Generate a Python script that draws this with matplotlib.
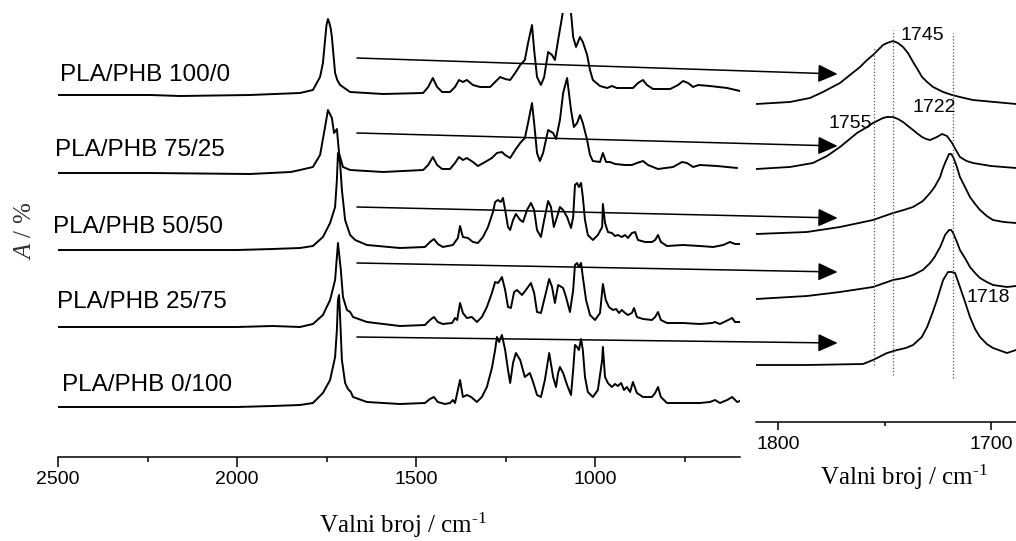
import matplotlib
matplotlib.use("Agg")
import matplotlib.pyplot as plt
from matplotlib.patches import ConnectionPatch
from matplotlib.ticker import FixedLocator, NullFormatter

# ---------------- data ----------------
labels = ["PLA/PHB 100/0", "PLA/PHB 75/25", "PLA/PHB 50/50", "PLA/PHB 25/75", "PLA/PHB 0/100"]

# full spectra (wavenumber / cm-1, absorbance a.u.)
wn_100_0 = [2500, 2243, 2159, 1964, 1824, 1788, 1768, 1760, 1754, 1750, 1746, 1742, 1738, 1735, 1730,
            1726, 1720, 1712, 1684, 1592, 1480,
            1466, 1453, 1441, 1427, 1405, 1391, 1380, 1369, 1358, 1341, 1321, 1293, 1279, 1265, 1251,
            1237, 1223, 1209, 1196, 1187, 1176, 1170, 1162, 1151, 1142, 1131, 1120, 1112, 1103, 1092,
            1085, 1078, 1070, 1067, 1061, 1053, 1042, 1034, 1022, 1014, 1006, 986, 966, 953, 939,
            894, 880, 866, 855, 838, 790, 768, 754, 740, 726, 712, 679, 631, 595]
a_100_0 = [0, 0, -0.01, 0, 0.02, 0.05, 0.18, 0.32, 0.55, 0.70, 0.76, 0.72, 0.66, 0.58, 0.38,
           0.22, 0.15, 0.10, 0.03, 0.01, 0.02,
           0.08, 0.17, 0.08, 0.03, 0.03, 0.08, 0.15, 0.13, 0.15, 0.10, 0.08, 0.08, 0.13, 0.18, 0.16,
           0.15, 0.22, 0.30, 0.35, 0.52, 0.70, 0.45, 0.18, 0.10, 0.18, 0.43, 0.40, 0.35, 0.55, 0.78,
           0.95, 1.05, 0.95, 0.82, 0.58, 0.48, 0.58, 0.53, 0.40, 0.25, 0.15, 0.09, 0.07, 0.09, 0.07,
           0.07, 0.12, 0.15, 0.10, 0.06, 0.06, 0.10, 0.14, 0.12, 0.08, 0.10, 0.09, 0.07, 0.04]

wn_75_25 = [2500, 2243, 1964, 1850, 1824, 1788, 1768, 1754, 1746, 1735, 1729, 1721, 1715, 1704, 1684,
            1592, 1480, 1466, 1453, 1441, 1427, 1405, 1391, 1380, 1369, 1358, 1341, 1327, 1307, 1288,
            1274, 1260, 1251, 1237, 1223, 1209, 1196, 1187, 1176, 1170, 1162, 1154, 1145, 1131, 1117,
            1109, 1098, 1089, 1078, 1067, 1059, 1050, 1042, 1034, 1022, 1014, 1006, 986, 978, 969,
            958, 944, 916, 897, 883, 866, 852, 824, 782, 757, 743, 726, 707, 659, 603]
a_75_25 = [0, 0, -0.01, 0.01, 0.03, 0.06, 0.18, 0.46, 0.63, 0.55, 0.40, 0.44, 0.20, 0.06, 0.03,
           0.01, 0.03, 0.08, 0.16, 0.08, 0.04, 0.04, 0.10, 0.16, 0.13, 0.15, 0.11, 0.07, 0.11, 0.15,
           0.20, 0.21, 0.18, 0.15, 0.23, 0.30, 0.35, 0.50, 0.70, 0.50, 0.20, 0.12, 0.20, 0.43, 0.40,
           0.34, 0.53, 0.80, 0.95, 0.63, 0.46, 0.50, 0.58, 0.50, 0.33, 0.18, 0.12, 0.11, 0.20, 0.11,
           0.11, 0.09, 0.08, 0.08, 0.10, 0.12, 0.08, 0.04, 0.06, 0.11, 0.10, 0.06, 0.08, 0.07, 0.05]

wn_50_50 = [2500, 2200, 2000, 1900, 1824, 1788, 1760, 1740, 1726, 1721, 1718, 1712, 1707, 1698, 1684,
            1670, 1637, 1545, 1475, 1461, 1450, 1439, 1425, 1397, 1383, 1377, 1369, 1355, 1341, 1327,
            1313, 1299, 1285, 1279, 1271, 1263, 1257, 1251, 1243, 1237, 1229, 1221, 1209, 1201, 1190,
            1179, 1170, 1162, 1151, 1142, 1131, 1123, 1115, 1106, 1098, 1089, 1078, 1067, 1061, 1056,
            1050, 1045, 1039, 1034, 1028, 1020, 1006, 992, 980, 978, 972, 964, 953, 944, 936,
            925, 916, 908, 897, 888, 880, 860, 841, 832, 824, 816, 799, 754, 707, 670,
            642, 623, 609, 595]
a_50_50 = [0, 0, 0, 0.01, 0.02, 0.04, 0.13, 0.27, 0.43, 0.70, 0.97, 0.87, 0.60, 0.30, 0.15,
           0.10, 0.05, 0.02, 0.03, 0.08, 0.11, 0.06, 0.03, 0.05, 0.12, 0.24, 0.13, 0.12, 0.08, 0.07,
           0.13, 0.23, 0.38, 0.48, 0.50, 0.48, 0.52, 0.40, 0.23, 0.20, 0.30, 0.36, 0.30, 0.28, 0.40,
           0.47, 0.40, 0.20, 0.13, 0.30, 0.49, 0.43, 0.23, 0.33, 0.43, 0.40, 0.33, 0.22, 0.33, 0.65,
           0.67, 0.63, 0.67, 0.53, 0.30, 0.15, 0.10, 0.15, 0.23, 0.46, 0.27, 0.18, 0.17, 0.14, 0.15,
           0.13, 0.15, 0.12, 0.17, 0.18, 0.10, 0.08, 0.08, 0.10, 0.15, 0.08, 0.04, 0.05, 0.04, 0.03,
           0.05, 0.08, 0.06, 0.06]

wn_25_75 = [2500, 2200, 2000, 1900, 1824, 1788, 1760, 1740, 1726, 1721, 1718, 1710, 1704, 1693, 1684,
            1676, 1637, 1545, 1475, 1461, 1450, 1439, 1425, 1399, 1391, 1385, 1377, 1369, 1358, 1344,
            1330, 1316, 1302, 1288, 1279, 1271, 1265, 1260, 1251, 1243, 1235, 1226, 1218, 1204, 1193,
            1179, 1170, 1162, 1151, 1140, 1128, 1120, 1112, 1103, 1089, 1081, 1070, 1061, 1056, 1050,
            1045, 1039, 1034, 1025, 1014, 1000, 986, 978, 970, 961, 950, 941, 933, 925, 916,
            908, 897, 891, 883, 866, 841, 832, 824, 816, 799, 754, 707, 673, 665, 651,
            628, 617, 609, 595]
a_25_75 = [0, 0, 0, 0.01, 0.00, 0.03, 0.12, 0.27, 0.47, 0.70, 0.84, 0.57, 0.30, 0.17, 0.15,
           0.10, 0.05, 0.01, 0.02, 0.07, 0.10, 0.05, 0.03, 0.04, 0.09, 0.07, 0.24, 0.14, 0.09, 0.10,
           0.05, 0.10, 0.20, 0.34, 0.45, 0.44, 0.47, 0.50, 0.37, 0.20, 0.19, 0.35, 0.37, 0.32, 0.37,
           0.44, 0.34, 0.15, 0.14, 0.30, 0.48, 0.40, 0.24, 0.42, 0.39, 0.30, 0.15, 0.37, 0.62, 0.64,
           0.60, 0.64, 0.50, 0.27, 0.12, 0.07, 0.14, 0.43, 0.27, 0.20, 0.17, 0.18, 0.14, 0.17, 0.14,
           0.12, 0.14, 0.19, 0.10, 0.08, 0.07, 0.10, 0.15, 0.07, 0.04, 0.04, 0.03, 0.04, 0.05, 0.03,
           0.07, 0.09, 0.05, 0.05]

wn_0_100 = [2500, 2200, 2000, 1900, 1824, 1788, 1760, 1740, 1726, 1721, 1718, 1715, 1712, 1707, 1698,
            1690, 1682, 1676, 1637, 1545, 1475, 1461, 1450, 1439, 1419, 1405, 1397, 1391, 1377, 1369,
            1358, 1346, 1330, 1316, 1302, 1288, 1279, 1274, 1268, 1260, 1251, 1243, 1237, 1229, 1221,
            1209, 1196, 1182, 1173, 1162, 1151, 1140, 1128, 1117, 1109, 1103, 1098, 1089, 1078, 1067,
            1061, 1056, 1050, 1045, 1039, 1034, 1028, 1020, 1006, 992, 980, 978, 972, 964, 953,
            944, 936, 927, 919, 911, 902, 894, 883, 866, 841, 832, 824, 816, 799, 754,
            707, 679, 665, 651, 631, 617, 603, 595]
a_0_100 = [0, 0, 0, 0.01, 0.02, 0.04, 0.14, 0.27, 0.50, 0.77, 1.07, 1.12, 0.90, 0.47, 0.24,
           0.18, 0.15, 0.10, 0.05, 0.03, 0.04, 0.08, 0.10, 0.05, 0.03, 0.04, 0.07, 0.04, 0.27, 0.10,
           0.12, 0.10, 0.05, 0.10, 0.20, 0.39, 0.57, 0.70, 0.65, 0.72, 0.57, 0.37, 0.24, 0.44, 0.54,
           0.47, 0.30, 0.34, 0.25, 0.12, 0.10, 0.27, 0.54, 0.30, 0.20, 0.34, 0.40, 0.34, 0.22, 0.12,
           0.37, 0.62, 0.60, 0.57, 0.68, 0.57, 0.30, 0.15, 0.10, 0.17, 0.47, 0.60, 0.30, 0.24, 0.20,
           0.23, 0.21, 0.24, 0.17, 0.20, 0.15, 0.25, 0.14, 0.10, 0.10, 0.14, 0.20, 0.10, 0.04, 0.04,
           0.04, 0.05, 0.07, 0.04, 0.07, 0.10, 0.05, 0.06]

# carbonyl region (zoom)
wz_100_0 = [1810.3, 1794.4, 1785.0, 1778.9, 1770.9, 1761.5, 1758.2, 1755.4, 1750.7, 1748.8, 1746.0,
            1743.7, 1741.3, 1739.0, 1736.6, 1734.3, 1732.4, 1730.0, 1727.2, 1722.5, 1718.3, 1714.6,
            1708.5, 1688.3]
az_100_0 = [0, 0.02, 0.06, 0.12, 0.21, 0.37, 0.44, 0.49, 0.59, 0.61, 0.63,
            0.61, 0.57, 0.51, 0.42, 0.34, 0.27, 0.22, 0.17, 0.12, 0.09, 0.07,
            0.04, 0.0]
wz_75_25 = [1810.3, 1794.4, 1783.6, 1777.0, 1770.9, 1762.9, 1758.9, 1755.4, 1750.7, 1748.8, 1746.0,
            1743.7, 1741.3, 1739.0, 1736.6, 1734.3, 1732.4, 1730.5, 1728.6, 1725.4, 1723.0, 1720.7,
            1718.3, 1716.5, 1714.6, 1711.5, 1708.5, 1700.0, 1688.3]
az_75_25 = [0, 0.02, 0.06, 0.13, 0.22, 0.36, 0.41, 0.46, 0.51, 0.52, 0.52,
            0.50, 0.47, 0.43, 0.39, 0.35, 0.32, 0.30, 0.29, 0.32, 0.35, 0.33,
            0.26, 0.19, 0.12, 0.08, 0.06, 0.03, 0.01]
wz_50_50 = [1810.3, 1786.4, 1770.9, 1755.4, 1746.0, 1741.0, 1736.6, 1732.0, 1728.6, 1726.5, 1723.9,
            1722.7, 1721.6, 1719.7, 1718.7, 1717.8, 1716.2, 1714.6, 1712.0, 1709.9, 1707.5, 1705.2,
            1702.0, 1699.1, 1694.0, 1688.3]
az_50_50 = [0, 0.02, 0.07, 0.14, 0.21, 0.24, 0.27, 0.33, 0.41, 0.47, 0.57,
            0.65, 0.71, 0.80, 0.80, 0.77, 0.68, 0.57, 0.46, 0.37, 0.30, 0.24,
            0.18, 0.14, 0.12, 0.11]
wz_25_75 = [1810.3, 1786.4, 1770.9, 1755.4, 1746.0, 1741.0, 1736.6, 1732.0, 1728.6, 1726.5, 1723.9,
            1722.7, 1721.6, 1719.7, 1718.7, 1717.8, 1716.2, 1714.6, 1712.0, 1709.9, 1707.5, 1705.2,
            1702.0, 1699.1, 1692.5, 1688.3]
az_25_75 = [0, 0.03, 0.07, 0.12, 0.19, 0.21, 0.24, 0.29, 0.36, 0.42, 0.52,
            0.58, 0.64, 0.69, 0.69, 0.66, 0.58, 0.49, 0.40, 0.32, 0.26, 0.21,
            0.17, 0.14, 0.12, 0.13]
wz_0_100 = [1810.3, 1786.4, 1760.1, 1755.4, 1748.8, 1744.1, 1740.0, 1736.6, 1732.5, 1730.0, 1727.5,
            1725.4, 1722.5, 1720.2, 1718.5, 1716.9, 1714.6, 1712.2, 1709.9, 1707.5, 1705.2, 1702.0,
            1699.1, 1692.5, 1688.3]
az_0_100 = [0, 0, 0.01, 0.05, 0.12, 0.15, 0.17, 0.20, 0.28, 0.38, 0.52,
            0.65, 0.85, 0.93, 0.93, 0.92, 0.78, 0.63, 0.48, 0.36, 0.28, 0.21,
            0.17, 0.12, 0.15]

# stacking offsets
offsets_full = [3.62, 2.84, 2.07, 1.30, 0.50]
offsets_zoom = [3.18, 2.53, 1.88, 1.23, 0.57]

# tick values
ticks_full_major = [2500, 2000, 1500, 1000]
ticks_full_minor = [2250, 1750, 1250, 750]
ticks_zoom_major = [1800, 1700]
ticks_zoom_minor = [1750]

# dotted reference lines in zoom (position, ymin, ymax)
ref_lines = [1755, 1746, 1718]
ref_ymin = [0.57, 0.47, 0.44]
ref_ymax = [3.75, 3.92, 3.89]
peak_texts = ["1745", "1722", "1755", "1718"]
peak_text_x = [1732.4, 1726.8, 1766.2, 1701.4]
peak_text_y = [3.86, 3.14, 2.99, 1.25]

# arrows from full spectrum to zoom
arrow_start_x = 1665
arrow_start_y = [3.99, 3.24, 2.50, 1.94, 1.20]
arrow_end_x = 1772
arrow_end_y = [3.48, 2.76, 2.04, 1.50, 0.79]

# ---------------- figure ----------------
plt.rcParams['font.family'] = ['Liberation Sans', 'DejaVu Sans']
plt.rcParams['mathtext.fontset'] = 'custom'
plt.rcParams['mathtext.rm'] = 'Liberation Serif'
plt.rcParams['mathtext.it'] = 'Liberation Serif:italic'

W, H = 1016, 541
fig = plt.figure(figsize=(W / 100, H / 100), dpi=100)

axL = fig.add_axes([58 / W, (H - 457) / H, 682 / W, 444 / H])
axR = fig.add_axes([756 / W, (H - 422) / H, 260 / W, 409 / H])

full = [(wn_100_0, a_100_0), (wn_75_25, a_75_25), (wn_50_50, a_50_50),
        (wn_25_75, a_25_75), (wn_0_100, a_0_100)]
zoom = [(wz_100_0, az_100_0), (wz_75_25, az_75_25), (wz_50_50, az_50_50),
        (wz_25_75, az_25_75), (wz_0_100, az_0_100)]

for (x, y), off in zip(full, offsets_full):
    axL.plot(x, [v + off for v in y], color='black', lw=1.4,
             solid_joinstyle='round', solid_capstyle='round')
for (x, y), off in zip(zoom, offsets_zoom):
    axR.plot(x, [v + off for v in y], color='black', lw=1.3,
             solid_joinstyle='round', solid_capstyle='round')

axL.set_xlim(2500, 595)
axL.set_ylim(0, 4.44)
axR.set_xlim(1810.3, 1688.3)
axR.set_ylim(0, 4.09)

for ax in (axL, axR):
    for s in ('top', 'left', 'right'):
        ax.spines[s].set_visible(False)
    ax.spines['bottom'].set_linewidth(1.1)
    ax.set_yticks([])
    ax.patch.set_alpha(0)

axL.xaxis.set_major_locator(FixedLocator(ticks_full_major))
axL.xaxis.set_minor_locator(FixedLocator(ticks_full_minor))
axL.xaxis.set_minor_formatter(NullFormatter())
axL.tick_params(axis='x', which='major', direction='out', length=7.2, width=1.1,
                labelsize=14, pad=3)
axL.tick_params(axis='x', which='minor', direction='out', length=3.6, width=1.1)

axR.xaxis.set_major_locator(FixedLocator(ticks_zoom_major))
axR.xaxis.set_minor_locator(FixedLocator(ticks_zoom_minor))
axR.xaxis.set_minor_formatter(NullFormatter())
axR.tick_params(axis='x', which='major', direction='out', length=5.8, width=1.1,
                labelsize=14, pad=4.3)
axR.tick_params(axis='x', which='minor', direction='out', length=3.2, width=1.1)

# dotted reference lines and peak labels
for xv, y0, y1 in zip(ref_lines, ref_ymin, ref_ymax):
    axR.plot([xv, xv], [y0, y1], color='#555555', lw=0.9, ls=(0, (1, 1.6)))
for t, xv, yv in zip(peak_texts, peak_text_x, peak_text_y):
    axR.text(xv, yv, t, fontsize=14, ha='center', va='center')

# arrows
for ys, ye in zip(arrow_start_y, arrow_end_y):
    con = ConnectionPatch(xyA=(arrow_start_x, ys), coordsA=axL.transData,
                          xyB=(arrow_end_x, ye), coordsB=axR.transData,
                          arrowstyle='-|>,head_length=1.2,head_width=0.55',
                          mutation_scale=10, shrinkA=0, shrinkB=0,
                          color='black', lw=1.1)
    fig.add_artist(con)

# sample labels
label_px = [(60, 75), (55, 150), (53, 227), (57, 302), (62, 385)]
for lab, (px, py) in zip(labels, label_px):
    fig.text(px / W, 1 - py / H, lab, fontsize=17.5, ha='left', va='center')

# axis titles
xlab = r'Valni broj / cm$^{\text{-1}}$'
fig.text(403 / W, 1 - 525 / H, xlab, fontsize=18,
         family='Liberation Serif', ha='center', va='center')
fig.text(904 / W, 1 - 477 / H, xlab, fontsize=18,
         family='Liberation Serif', ha='center', va='center')
fig.text(25 / W, 1 - 231 / H, r'$\mathit{A}$ / %', fontsize=18, family='Liberation Serif',
         color='#333333', rotation=90, ha='center', va='center')

fig.savefig('out.png', dpi=100)
